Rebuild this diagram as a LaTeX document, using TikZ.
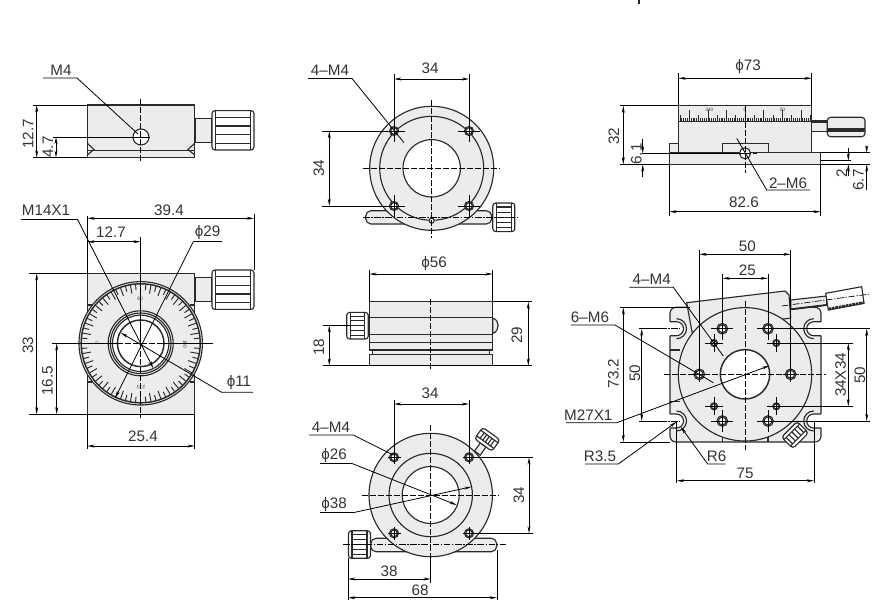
\documentclass[tikz,border=0pt]{standalone}
\usepackage{fontspec}
\setmainfont{Liberation Sans}
\usetikzlibrary{arrows.meta}
\definecolor{bodygray}{HTML}{ECECEC}
\definecolor{inkgray}{HTML}{2A2A2A}
\definecolor{textgray}{HTML}{333333}
\tikzset{
  part/.style={draw=inkgray,line width=0.85pt,fill=bodygray},
  edge/.style={draw=inkgray,line width=0.85pt},
  bore/.style={draw=inkgray,line width=0.85pt,fill=white},
  dimline/.style={draw=black,line width=0.6pt,{Stealth[length=5.5pt,width=2.2pt]}-{Stealth[length=5.5pt,width=2.2pt]}},
  extline/.style={draw=black,line width=0.6pt},
  leader/.style={draw=black,line width=0.6pt},
  tipline/.style={draw=black,line width=0.6pt,-{Stealth[length=5.5pt,width=2.2pt]}},
  axisline/.style={draw=black,line width=0.6pt,dash pattern=on 4.5pt off 1.5pt},
  axisdot/.style={draw=black,line width=0.5pt,dash pattern=on 5pt off 1.2pt on 1pt off 1.2pt},
  lbl/.style={inner sep=0pt,text=textgray,font=\fontsize{11.4}{13}\selectfont},
  tiny/.style={inner sep=0pt,text=textgray,font=\fontsize{3.6}{4}\selectfont}
}
% knob seen from the side: centre x, centre y, rotation, half length, half height, stripes
\newcommand{\knurl}[6]{%
  \begin{scope}[shift={(#1,#2)},rotate=#3]
    \draw[edge,fill=white,rounded corners=2.2pt] (-#4,-#5) rectangle (#4,#5);
    \draw[edge] (-#4+3.5,-#5) -- (-#4+3.5,#5);
    \draw[edge] (#4-3.5,-#5) -- (#4-3.5,#5);
    \foreach \f in {#6} \draw[edge] (-#4+3.5,\f*#5) -- (#4-3.5,\f*#5);
  \end{scope}}
% bolt hole with its cross: x, y, radius, arm
\newcommand{\holemark}[4]{%
  \draw[bore] (#1,#2) circle (#3);
  \draw[bore,fill=none] (#1,#2) circle (#3*0.74);
  \draw[extline] (#1-#4,#2) -- (#1+#4,#2);
  \draw[extline] (#1,#2-#4) -- (#1,#2+#4);}
\begin{document}
\begin{tikzpicture}[x=0.75pt,y=0.75pt,yscale=-1,xscale=1]
    \useasboundingbox (0,0) rectangle (873,608);
    \draw[line width=1pt,draw=inkgray] (639,0) -- (639,4);

    %Side view, top left
    \draw[part] (195,118.3) rectangle (212,142.3);
    \knurl{233}{130.3}{0}{21}{19.7}{-0.66,-0.22,0.22,0.66}
    \draw[part] (87.3,105) rectangle (194.7,157.7);
    \draw[edge] (87.3,150.7) -- (194.7,150.7);
    \draw[edge] (87.3,143.3) -- (94,149.5) -- (87.3,155);
    \draw[edge] (194.7,143.3) -- (188,149.5) -- (194.7,155);
    \draw[bore] (141,137) circle (8);
    \draw[axisline] (140.7,99) -- (140.7,161.7);
    \draw[extline] (53,137) -- (150,137);
    \draw[extline] (33,105) -- (87.3,105);
    \draw[extline] (33,157.7) -- (87.3,157.7);
    \draw[dimline] (36.7,105) -- (36.7,157.7);
    \draw[dimline] (56,137) -- (56,157.7);
    \draw[leader] (43,78) -- (77,78) -- (138,134);
    \node[lbl] (labelMfour) at (61,70) {M4};
    \node[lbl,rotate=90] (labelTwelveA) at (28,134) {12.7};
    \node[lbl,rotate=90] (labelFourA) at (48,147) {4.7};

    %Dial view, left
    \draw[part] (195,277.3) rectangle (212,301.7);
    \knurl{233}{289.7}{0}{21}{19.7}{-0.66,-0.22,0.22,0.66}
    \draw[part] (87.3,273.3) rectangle (194.7,414.3);
    \draw[edge] (87.3,305) -- (92,305) (194.7,305) -- (190,305) (87.3,382) -- (92,382) (194.7,382) -- (190,382);
    \draw[part] (140.7,343.3) circle (61.7);
    \draw[edge,line width=1.1pt] (140.7,343.3) circle (59.5);
    \foreach \a in {0,10,...,350}
      \draw[edge,line width=0.7pt] ([shift={(\a:59)}]140.7,343.3) -- ([shift={(\a:50.5)}]140.7,343.3);
    \foreach \a in {5,15,...,355}
      \draw[edge,line width=0.7pt] ([shift={(\a:59)}]140.7,343.3) -- ([shift={(\a:53.5)}]140.7,343.3);
    \draw[part] (140.7,343.3) circle (32.5);
    \draw[edge] (140.7,343.3) circle (30.3);
    \draw[bore] (140.7,343.3) circle (28.2);
    \draw[bore,line width=1.1pt] (140.7,343.3) circle (23.3);
    \node[tiny] (dialNinety) at (140,299) {90};
    \node[tiny,rotate=-90] (dialOneEighty) at (185,344) {180};
    \node[tiny,rotate=180] (dialTwoSeventy) at (141,387) {270};
    \node[tiny,rotate=90] (dialZero) at (97,343) {0};
    \draw[extline] (140.7,236.7) -- (140.7,343.3);
    \draw[axisline] (140.7,343.3) -- (140.7,418);
    \draw[extline] (51.7,343.3) -- (117,343.3);
    \draw[axisline] (117,343.3) -- (164,343.3);
    \draw[extline] (164,343.3) -- (213.3,343.3);
    \draw[extline] (87.3,216) -- (87.3,273.3);
    \draw[extline] (254,214) -- (254,270);
    \draw[dimline] (87.3,218.3) -- (254,218.3);
    \draw[dimline] (87.3,241.7) -- (140.7,241.7);
    \draw[extline] (29,273.3) -- (87.3,273.3);
    \draw[extline] (29,414.3) -- (194.7,414.3);
    \draw[dimline] (36.7,273.3) -- (36.7,414.3);
    \draw[dimline] (56.7,343.3) -- (56.7,414.3);
    \draw[extline] (87.3,414.3) -- (87.3,449);
    \draw[extline] (194.7,414.3) -- (194.7,449);
    \draw[dimline] (87.3,446) -- (194.7,446);
    \draw[leader] (21,219) -- (77.3,219);
    \draw[tipline] (77.3,219) -- (153.3,368.3);
    \draw[leader] (221.7,241.7) -- (193.3,241.7);
    \draw[tipline] (193.3,241.7) -- (115,398.3);
    \draw[tipline] (253,392.3) -- (221.7,392.3) -- (120.7,332.7);
    \node[lbl] (labelMfourteen) at (46,210.5) {M14X1};
    \node[lbl] (labelThirtyNine) at (169,210) {39.4};
    \node[lbl] (labelTwelveB) at (111,232.5) {12.7};
    \node[lbl] (labelPhiTwentyNine) at (207.5,232.5) {ϕ29};
    \node[lbl,rotate=90] (labelThirtyThree) at (28,345) {33};
    \node[lbl,rotate=90] (labelSixteen) at (47.5,381) {16.5};
    \node[lbl] (labelPhiEleven) at (239,383) {ϕ11};
    \node[lbl] (labelTwentyFive) at (143,436) {25.4};

    %Round view, top middle
    \draw[part,rounded corners=4pt] (365.7,210.7) rectangle (491.7,224);
    \knurl{503.8}{217.3}{0}{11}{14.3}{-0.72,-0.36,0,0.36,0.72}
    \draw[part] (431.7,168.3) circle (62);
    \draw[edge] (431.7,168.3) circle (52);
    \draw[bore] (431.7,168.3) circle (28.7);
    \draw[bore] (431.7,220.7) circle (2.5);
    \holemark{394}{131}{4.5}{11}
    \holemark{469}{131}{4.5}{11}
    \holemark{394}{206}{4.5}{11}
    \holemark{469}{206}{4.5}{11}
    \draw[axisline] (431.7,100) -- (431.7,238);
    \draw[axisline] (362.7,168.3) -- (500,168.3);
    \draw[axisdot] (363,217.3) -- (518,217.3);
    \draw[extline] (394,74) -- (394,131);
    \draw[extline] (469,74) -- (469,131);
    \draw[dimline] (394,79) -- (469,79);
    \draw[extline] (322,131) -- (394,131);
    \draw[extline] (322,206) -- (394,206);
    \draw[dimline] (329.3,131) -- (329.3,206);
    \draw[leader] (308,78.5) -- (352,78.5) -- (404,142.7);
    \node[lbl] (labelFourMa) at (330,70) {4–M4};
    \node[lbl] (labelThirtyFourA) at (430,68.5) {34};
    \node[lbl,rotate=90] (labelThirtyFourB) at (319,168.5) {34};

    %Side view, middle
    \knurl{357.5}{325.7}{0}{10.8}{13.3}{-0.72,-0.36,0,0.36,0.72}
    \draw[part] (492.7,318) .. controls (500,320) and (500,331) .. (492.7,333.5) -- cycle;
    \draw[part] (372.7,350) rectangle (489.3,354.3);
    \draw[part] (369.3,301.7) rectangle (492.7,350);
    \draw[part] (369.3,354.3) rectangle (492.7,365.7);
    \draw[edge] (369.3,317.3) -- (492.7,317.3);
    \draw[edge] (369.3,334.3) -- (492.7,334.3);
    \draw[edge] (369.3,342.3) -- (492.7,342.3);
    \draw[axisline] (430.7,299) -- (430.7,370);
    \draw[extline] (369.3,270) -- (369.3,301.7);
    \draw[extline] (492.7,270) -- (492.7,301.7);
    \draw[dimline] (369.3,274) -- (492.7,274);
    \draw[extline] (492.7,301.7) -- (532,301.7);
    \draw[extline] (323,365.7) -- (532,365.7);
    \draw[dimline] (528.3,301.7) -- (528.3,365.7);
    \draw[extline] (323,325.3) -- (350,325.3);
    \draw[dimline] (329.3,325.3) -- (329.3,365.7);
    \node[lbl] (labelPhiFiftySix) at (434,264) {ϕ56};
    \node[lbl,rotate=90] (labelTwentyNine) at (517,335) {29};
    \node[lbl,rotate=90] (labelEighteen) at (319,347) {18};

    %Round view, bottom middle
    \draw[part,rounded corners=4pt] (370.7,538.3) rectangle (496.7,551.7);
    \knurl{359.5}{544.5}{0}{11}{13.8}{-0.72,-0.36,0,0.36,0.72}
    \begin{scope}[shift={(487.3,439.3)},rotate=-54]
      \draw[part] (-17,-3.5) rectangle (-7,3.5);
    \end{scope}
    \knurl{487.3}{439.3}{-54}{7}{10.7}{-0.6,-0.3,0,0.3,0.6}
    \draw[part] (430.7,495) circle (61.7);
    \draw[edge] (430.7,495) circle (41.7);
    \draw[bore] (430.7,495) circle (28.5);
    \holemark{394}{457.3}{4.5}{6.5}
    \holemark{469}{457.3}{4.5}{6.5}
    \holemark{394}{533.3}{4.5}{6.5}
    \holemark{469}{533.3}{4.5}{6.5}
    \draw[axisline] (430.7,425) -- (430.7,556);
    \draw[extline] (430.7,556) -- (430.7,583);
    \draw[axisline] (362,495) -- (499,495);
    \draw[axisdot] (343,544) -- (506.7,544);
    \draw[extline] (394,400) -- (394,457.3);
    \draw[extline] (469,400) -- (469,457.3);
    \draw[dimline] (394,404) -- (469,404);
    \draw[extline] (469,457.3) -- (533,457.3);
    \draw[extline] (469,533.3) -- (533,533.3);
    \draw[dimline] (529,457.3) -- (529,533.3);
    \draw[leader] (309,435) -- (353.3,435) -- (393.3,455);
    \draw[leader] (320,463.5) -- (352,463.5);
    \draw[tipline] (352,463.5) -- (456.7,505);
    \draw[leader] (320,512.7) -- (353,512.7);
    \draw[tipline] (353,512.7) -- (471.7,486.7);
    \draw[extline] (348,558) -- (348,600);
    \draw[extline] (497,550) -- (497,600);
    \draw[dimline] (348,579) -- (430.7,579);
    \draw[dimline] (348,597.7) -- (497,597.7);
    \node[lbl] (labelFourMb) at (331,427) {4–M4};
    \node[lbl] (labelPhiTwentySix) at (334,456) {ϕ26};
    \node[lbl] (labelPhiThirtyEight) at (334,505) {ϕ38};
    \node[lbl] (labelThirtyFourC) at (430,393.5) {34};
    \node[lbl,rotate=90] (labelThirtyFourD) at (519,495) {34};
    \node[lbl] (labelThirtyEight) at (389,571) {38};
    \node[lbl] (labelSixtyEight) at (420,590) {68};

    %Side view, top right
    \draw[part] (811.7,121) rectangle (827.3,131.7);
    \draw[edge,line width=1.6pt] (811.7,121.5) -- (827.3,121.5);
    \draw[part,rounded corners=2.5pt] (827.3,117.3) rectangle (865,136.7);
    \draw[draw=inkgray,line width=2.6pt] (827.8,130) -- (864.5,130);
    \draw[part] (678.3,105.7) rectangle (811.7,152.7);
    \draw[edge,line width=1.3pt] (678.3,121.5) -- (811.7,121.5);
    \foreach \i in {-35,...,35}{
      \pgfmathtruncatemacro\m{abs(\i)}
      \pgfmathsetmacro\tk{mod(\m,10)==0?11:(mod(\m,5)==0?6:3.5)}
      \draw[edge,line width=0.45pt] (745+\i*1.86,121) -- (745+\i*1.86,121-\tk);
    }
    \node[tiny] (dialThreeForty) at (709.3,110) {340};
    \node[tiny] (dialTopZero) at (745,110) {0};
    \node[tiny] (dialTwenty) at (782.3,110) {20};
    \draw[part] (669.3,143.7) rectangle (678.3,152.7);
    \draw[part] (722.3,152.7) -- (722.3,143.7) -- (768.3,143.7) -- (768.3,152.7);
    \draw[part] (669.3,152.7) rectangle (820.7,164.3);
    \draw[edge,line width=1.4pt] (669.3,152.7) -- (722.3,152.7);
    \draw[bore] (745,153.3) circle (5.5);
    \draw[axisline] (745,105.7) -- (745,172.7);
    \draw[extline] (641.7,153.3) -- (745,153.3);
    \draw[axisline] (745,153.3) -- (756.7,153.3);
    \draw[extline] (678.3,73) -- (678.3,105.7);
    \draw[extline] (811.7,73) -- (811.7,105.7);
    \draw[dimline] (678.3,78.3) -- (811.7,78.3);
    \draw[extline] (620,105.7) -- (678.3,105.7);
    \draw[extline] (620,164.3) -- (669.3,164.3);
    \draw[dimline] (623.3,105.7) -- (623.3,164.3);
    \draw[tipline] (642.7,139) -- (642.7,153.3);
    \draw[tipline] (642.7,176.7) -- (642.7,164.3);
    \draw[extline] (820.7,160.7) -- (851,160.7);
    \draw[extline] (820.7,152.7) -- (870,152.7);
    \draw[extline] (820.7,164.3) -- (870,164.3);
    \draw[tipline] (848.3,148) -- (848.3,160.7);
    \draw[tipline] (848.3,176) -- (848.3,164.3);
    \draw[tipline] (866.7,145.7) -- (866.7,152.7);
    \draw[tipline] (866.7,190) -- (866.7,164.3);
    \draw[leader] (736.7,138.3) -- (766.7,190) -- (810,190);
    \draw[extline] (669.3,164.3) -- (669.3,216);
    \draw[extline] (820.7,164.3) -- (820.7,216);
    \draw[dimline] (669.3,211.7) -- (820.7,211.7);
    \node[lbl] (labelPhiSeventyThree) at (748,67) {ϕ73};
    \node[lbl,rotate=90] (labelThirtyTwo) at (614,136) {32};
    \node[lbl,rotate=90] (labelSixOne) at (636.5,154) {6.1};
    \node[lbl,rotate=90] (labelTwo) at (841.7,173) {2};
    \node[lbl,rotate=90] (labelSixSeven) at (858.3,180) {6.7};
    \node[lbl] (labelTwoMsix) at (788,183) {2–M6};
    \node[lbl] (labelEightyTwo) at (744,202.5) {82.6};

    %Plan view, right
    \draw[part,rounded corners=4.5pt] (670,307.3) rectangle (821,442);
    \draw[bore,draw=none] (668,321.7) -- (676.5,321.7) arc (-90:90:7) -- (668,335.7) -- cycle;
    \draw[bore,draw=none] (823,321.7) -- (813.7,321.7) arc (-90:-270:7) -- (823,335.7) -- cycle;
    \draw[bore,draw=none] (668,414) -- (676.5,414) arc (-90:90:7) -- (668,428) -- cycle;
    \draw[bore,draw=none] (823,414) -- (813.7,414) arc (-90:-270:7) -- (823,428) -- cycle;
    \draw[edge] (670,321.7) -- (676.5,321.7) arc (-90:90:7) -- (670,335.7);
    \draw[edge] (821,321.7) -- (813.7,321.7) arc (-90:-270:7) -- (821,335.7);
    \draw[edge] (670,414) -- (676.5,414) arc (-90:90:7) -- (670,428);
    \draw[edge] (821,414) -- (813.7,414) arc (-90:-270:7) -- (821,428);
    \draw[edge] (676.5,318.7) arc (-90:90:10);
    \draw[edge] (813.7,318.7) arc (-90:-270:10);
    \draw[edge] (676.5,411) arc (-90:90:10);
    \draw[edge] (813.7,411) arc (-90:-270:10);
    \draw[edge] (670,350) -- (680,350) (670,401.7) -- (680,401.7);
    \draw[edge] (722.3,436) -- (722.3,442) (768,436) -- (768,442);
    \draw[part] (686.7,302.7) -- (785,291) -- (789,295) -- (790.7,318) -- (692,332) -- cycle;
    \draw[part] (790.7,300) -- (826.7,296) -- (826.7,305) -- (790.7,309.3) -- cycle;
    \draw[edge,line width=1.4pt] (790.7,309.3) -- (826.7,305);
    \draw[edge,fill=white] (825.7,293.3) -- (861.7,286.7) -- (864,303.3) -- (828.3,310) -- cycle;
    \draw[draw=inkgray,line width=2pt,dash pattern=on 2pt off 0.6pt] (828.5,309) -- (864,302.5);
    \draw[axisdot] (781.7,306) -- (870,294);
    \draw[part] (745,374.3) circle (66.7);
    \draw[bore,line width=1.1pt] (745,374.3) circle (24.7);
    \knurl{795}{435}{45}{8}{11}{-0.72,-0.36,0,0.36,0.72}
    \holemark{699.3}{374.3}{5.3}{8}
    \holemark{790.7}{374.3}{5.3}{8}
    \holemark{722.3}{328.7}{5.3}{11}
    \holemark{768}{328.7}{5.3}{11}
    \holemark{722.3}{421}{5.3}{11}
    \holemark{768}{421}{5.3}{11}
    \holemark{714}{343}{3.5}{9}
    \holemark{776.3}{343}{3.5}{9}
    \holemark{714}{406.3}{3.5}{9}
    \holemark{776.3}{406.3}{3.5}{9}
    \draw[axisline] (745,300.7) -- (745,450);
    \draw[axisline] (664,374.3) -- (826,374.3);
    \draw[extline] (699.3,250) -- (699.3,374.3);
    \draw[extline] (790.7,250) -- (790.7,374.3);
    \draw[dimline] (699.3,254.3) -- (790.7,254.3);
    \draw[extline] (722.3,274) -- (722.3,328.7);
    \draw[extline] (768,274) -- (768,328.7);
    \draw[dimline] (722.3,278.3) -- (768,278.3);
    \draw[extline] (620,307.3) -- (690,307.3);
    \draw[extline] (620,442) -- (670,442);
    \draw[dimline] (623.3,307.3) -- (623.3,442);
    \draw[extline] (639,328.7) -- (660,328.7);
    \draw[extline] (639,421) -- (660,421);
    \draw[axisdot] (660,328.7) -- (680,328.7);
    \draw[axisdot] (660,421) -- (680,421);
    \draw[dimline] (641.7,328.7) -- (641.7,421);
    \draw[extline] (768,328.7) -- (870,328.7);
    \draw[extline] (768,421) -- (870,421);
    \draw[dimline] (866.7,328.7) -- (866.7,421);
    \draw[extline] (776.3,343) -- (852.7,343);
    \draw[extline] (776.3,406.3) -- (852.7,406.3);
    \draw[dimline] (848.3,343) -- (848.3,406.3);
    \draw[extline] (676.7,421) -- (676.7,483);
    \draw[extline] (814,421) -- (814,483);
    \draw[dimline] (676.7,480.7) -- (814,480.7);
    \draw[leader] (629.3,287.3) -- (673.3,287.3) -- (723.3,356);
    \draw[leader] (570.7,325) -- (615,325) -- (713.3,382.7);
    \draw[tipline] (566,422.7) -- (616.7,422.7) -- (769.3,365.7);
    \draw[tipline] (585,464) -- (618.3,464) -- (676.7,421.7);
    \draw[tipline] (725.7,464) -- (707.7,464) -- (680.7,426.7);
    \node[lbl] (labelFiftyTop) at (747.3,246) {50};
    \node[lbl] (labelTwentyFiveTop) at (747.3,270) {25};
    \node[lbl] (labelFourMc) at (651.7,279.5) {4–M4};
    \node[lbl] (labelSixMsix) at (590,317) {6–M6};
    \node[lbl] (labelMtwentySeven) at (588.3,415) {M27X1};
    \node[lbl] (labelRthree) at (600,456) {R3.5};
    \node[lbl] (labelRsix) at (716.7,456) {R6};
    \node[lbl,rotate=90] (labelSeventyThree) at (613.3,373.5) {73.2};
    \node[lbl,rotate=90] (labelFiftyLeft) at (635,373.5) {50};
    \node[lbl,rotate=90] (labelFiftyRight) at (860,375) {50};
    \node[lbl,rotate=90] (labelThirtyFourX) at (840.7,375) {34X34};
    \node[lbl] (labelSeventyFive) at (745,473) {75};
\end{tikzpicture}
\end{document}
